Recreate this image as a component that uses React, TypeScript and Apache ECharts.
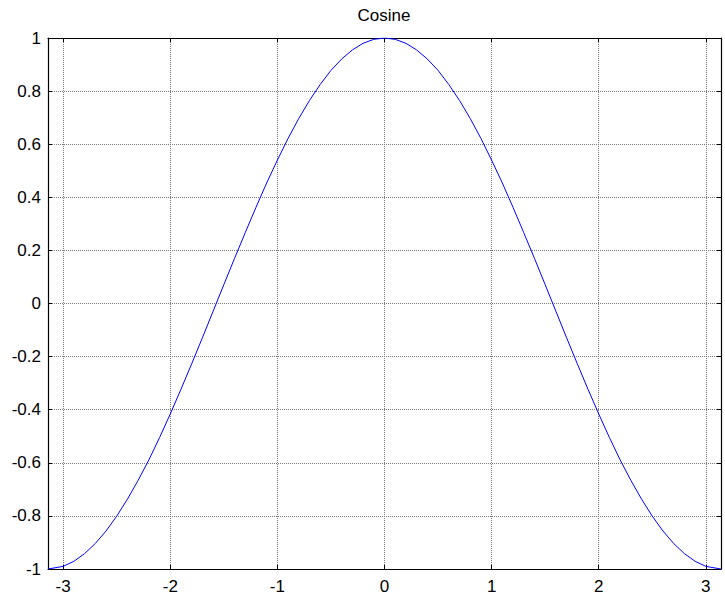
import React, { useEffect, useRef } from "react";
import * as echarts from "echarts";

const titleText = "Cosine";
const xMin = -3.1416;
const xMax = 3.1416;
const xTicks = [-3, -2, -1, 0, 1, 2, 3];
const yMin = -1;
const yMax = 1;
const yStep = 0.2;

const xValues = [
  -3.14, -3.0, -2.9, -2.8, -2.7, -2.6, -2.5, -2.4, -2.3, -2.2, -2.1, -2.0,
  -1.9, -1.8, -1.7, -1.6, -1.5, -1.4, -1.3, -1.2, -1.1, -1.0, -0.9, -0.8,
  -0.7, -0.6, -0.5, -0.4, -0.3, -0.2, -0.1, 0.0, 0.1, 0.2, 0.3, 0.4, 0.5,
  0.6, 0.7, 0.8, 0.9, 1.0, 1.1, 1.2, 1.3, 1.4, 1.5, 1.6, 1.7, 1.8, 1.9, 2.0,
  2.1, 2.2, 2.3, 2.4, 2.5, 2.6, 2.7, 2.8, 2.9, 3.0, 3.14,
];
const yValues = [
  -1.0, -0.99, -0.971, -0.942, -0.904, -0.857, -0.801, -0.737, -0.666, -0.589,
  -0.505, -0.416, -0.323, -0.227, -0.129, -0.029, 0.071, 0.17, 0.267, 0.362,
  0.454, 0.54, 0.622, 0.697, 0.765, 0.825, 0.878, 0.921, 0.955, 0.98, 0.995,
  1.0, 0.995, 0.98, 0.955, 0.921, 0.878, 0.825, 0.765, 0.697, 0.622, 0.54,
  0.454, 0.362, 0.267, 0.17, 0.071, -0.029, -0.129, -0.227, -0.323, -0.416,
  -0.505, -0.589, -0.666, -0.737, -0.801, -0.857, -0.904, -0.942, -0.971,
  -0.99, -1.0,
];

const FONT = "'Liberation Sans', Arial, sans-serif";

export default function App() {
  const ref = useRef<HTMLDivElement>(null);
  useEffect(() => {
    if (!ref.current) return;
    const chart = echarts.init(ref.current, undefined, { renderer: "svg" });
    const gridLine = { show: true, lineStyle: { color: "#7a7a7a", width: 1, type: [1, 1] as any } };
    const axisLine = { show: true, onZero: false, lineStyle: { color: "#000", width: 1.2 } };
    const tick = { show: true, inside: true, length: 4, lineStyle: { color: "#000" } };
    const label = { color: "#000", fontSize: 17, fontFamily: FONT };
    chart.setOption({
      animation: false,
      backgroundColor: "#fff",
      title: {
        text: titleText,
        left: 384,
        top: 7,
        padding: 0,
        textAlign: "center",
        textStyle: { color: "#000", fontSize: 17, fontWeight: "normal", fontFamily: FONT },
      },
      grid: { left: 48, right: 4, top: 38, bottom: 29, containLabel: false },
      xAxis: [
        {
          type: "value",
          position: "bottom",
          min: xMin,
          max: xMax,
          axisLine,
          axisTick: { ...tick, customValues: xTicks },
          axisLabel: { ...label, margin: 9, customValues: xTicks },
          splitLine: gridLine,
        },
        {
          type: "value",
          position: "top",
          min: xMin,
          max: xMax,
          axisLine,
          axisTick: { ...tick, customValues: xTicks },
          axisLabel: { show: false },
          splitLine: { show: false },
        },
      ],
      yAxis: [
        {
          type: "value",
          position: "left",
          min: yMin,
          max: yMax,
          interval: yStep,
          axisLine,
          axisTick: tick,
          axisLabel: { ...label, margin: 7 },
          splitLine: gridLine,
        },
        {
          type: "value",
          position: "right",
          min: yMin,
          max: yMax,
          interval: yStep,
          axisLine,
          axisTick: tick,
          axisLabel: { show: false },
          splitLine: { show: false },
        },
      ],
      series: [
        {
          type: "line",
          xAxisIndex: 0,
          yAxisIndex: 0,
          data: xValues.map((x, i) => [x, yValues[i]]),
          showSymbol: false,
          symbol: "none",
          lineStyle: { color: "#0000ff", width: 1 },
        },
      ],
    });
    return () => chart.dispose();
  }, []);
  return (
    <div
      ref={ref}
      style={{ position: "fixed", left: 0, top: 0, width: 725, height: 598, background: "#fff" }}
    />
  );
}
